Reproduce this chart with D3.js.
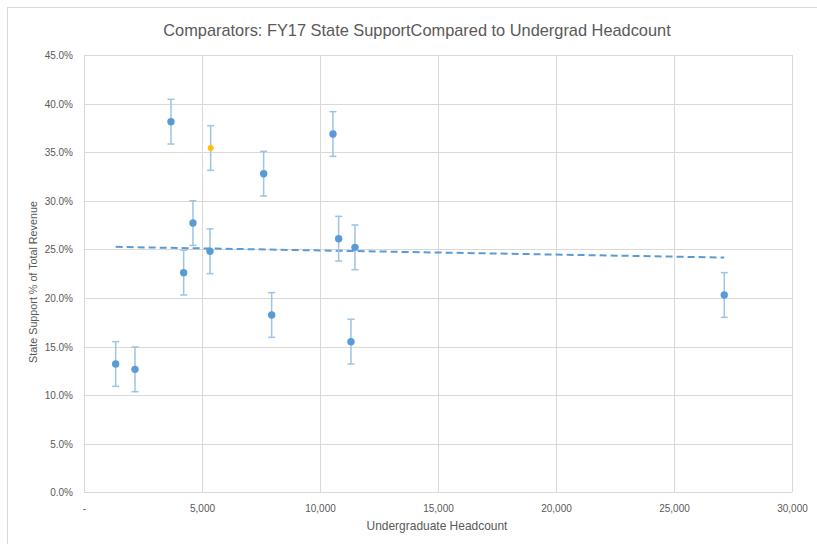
<!DOCTYPE html>
<html><head><meta charset="utf-8">
<script src="https://cdn.jsdelivr.net/npm/d3@7"></script>
<style>html,body{margin:0;padding:0;background:#fff;}svg{display:block;}</style>
</head><body>
<svg id="c" width="817" height="544"></svg>
<script>
const titleText = "Comparators: FY17 State SupportCompared to Undergrad Headcount";
const xTitle = "Undergraduate Headcount";
const yTitle = "State Support  % of Total Revenue";
const headcount = [1342, 2161, 3686, 4223, 4618, 5339, 7613, 7953, 10550, 10790, 11313, 11482, 27130];
const statePct  = [13.2, 12.65, 38.13, 22.6, 27.7, 24.8, 32.78, 18.24, 36.86, 26.09, 15.5, 25.2, 20.3];
const homeHeadcount = [5368];
const homePct = [35.42];
const errorPct = 2.3;
const xTicks = [0, 5000, 10000, 15000, 20000, 25000, 30000];
const yTicks = [0, 5, 10, 15, 20, 25, 30, 35, 40, 45];

const svg = d3.select("#c");
const L = 84, R = 792, T = 54.9, B = 492.3;
const x = d3.scaleLinear().domain([0, 30000]).range([L, R]);
const y = d3.scaleLinear().domain([0, 45]).range([B, T]);
const grid = "#d9d9d9", txt = "#595959", blue = "#5b9bd5", errC = "#9dc3e6";
const font = "Liberation Sans, Arial, sans-serif";

// chart border
svg.append("rect").attr("x", 7.5).attr("y", 7.5).attr("width", 840).attr("height", 560)
  .attr("fill", "none").attr("stroke", grid).attr("stroke-width", 1);

function fitText(sel, target) {
  const w = sel.node().getComputedTextLength();
  const fs = parseFloat(sel.attr("font-size"));
  sel.attr("font-size", fs * target / w);
}

// gridlines
svg.append("g").selectAll("line").data(yTicks).join("line")
  .attr("x1", L).attr("x2", R).attr("y1", d => Math.round(y(d)) + 0.5).attr("y2", d => Math.round(y(d)) + 0.5)
  .attr("stroke", grid).attr("stroke-width", 1);
svg.append("g").selectAll("line").data(xTicks).join("line")
  .attr("y1", T).attr("y2", B).attr("x1", d => Math.round(x(d)) + 0.5).attr("x2", d => Math.round(x(d)) + 0.5)
  .attr("stroke", grid).attr("stroke-width", 1);

// axes (labels only)
const xAxis = d3.axisBottom(x).tickValues(xTicks).tickSize(0).tickPadding(0)
  .tickFormat(d => d === 0 ? "-" : d3.format(",")(d));
const gx = svg.append("g").attr("transform", `translate(0,${B})`).call(xAxis);
gx.select(".domain").remove();
gx.selectAll("text").attr("y", 20).attr("dy", null).attr("fill", txt).attr("font-size", 10).attr("font-family", font);

const yAxis = d3.axisLeft(y).tickValues(yTicks).tickSize(0).tickPadding(0)
  .tickFormat(d => d3.format(".1f")(d) + "%");
const gy = svg.append("g").attr("transform", `translate(${L - 11},0)`).call(yAxis);
gy.select(".domain").remove();
gy.selectAll("text").attr("fill", txt).attr("font-size", 10).attr("font-family", font).attr("dy", "0.35em");

// title
const t = svg.append("text").attr("x", 417).attr("y", 36).attr("text-anchor", "middle")
  .attr("fill", txt).attr("font-size", 16).attr("font-family", font).text(titleText);
fitText(t, 508);
const xt = svg.append("text").attr("x", 437).attr("y", 530).attr("text-anchor", "middle")
  .attr("fill", txt).attr("font-size", 11).attr("font-family", font).text(xTitle);
fitText(xt, 141);
const yt = svg.append("text").attr("transform", "translate(37,282) rotate(-90)").attr("text-anchor", "middle")
  .attr("fill", txt).attr("font-size", 11).attr("font-family", font).text(yTitle);
fitText(yt, 162);

// data
const pts = headcount.map((h, i) => ({x: h, y: statePct[i], home: false}))
  .concat(homeHeadcount.map((h, i) => ({x: h, y: homePct[i], home: true})));

// trendline (least squares over all points)
const mx = d3.mean(pts, d => d.x), my = d3.mean(pts, d => d.y);
const slope = d3.sum(pts, d => (d.x - mx) * (d.y - my)) / d3.sum(pts, d => (d.x - mx) ** 2);
const icpt = my - slope * mx;
const [x0, x1] = d3.extent(pts, d => d.x);
svg.append("line").attr("x1", x(x0)).attr("x2", x(x1))
  .attr("y1", y(icpt + slope * x0)).attr("y2", y(icpt + slope * x1))
  .attr("stroke", blue).attr("stroke-width", 2).attr("stroke-dasharray", "7,4");

// error bars
const eb = svg.append("g").attr("stroke", errC).attr("stroke-width", 1.5);
pts.forEach(d => {
  const cx = x(d.x);
  eb.append("line").attr("x1", cx).attr("x2", cx).attr("y1", y(d.y - errorPct)).attr("y2", y(d.y + errorPct));
  [d.y - errorPct, d.y + errorPct].forEach(v => {
    eb.append("line").attr("x1", cx - 3.5).attr("x2", cx + 3.5).attr("y1", y(v)).attr("y2", y(v));
  });
});

// points
svg.append("g").selectAll("circle").data(pts).join("circle")
  .attr("cx", d => x(d.x)).attr("cy", d => y(d.y)).attr("r", d => d.home ? 3 : 3.7)
  .attr("fill", d => d.home ? "#ffc000" : blue);
</script>
</body></html>
